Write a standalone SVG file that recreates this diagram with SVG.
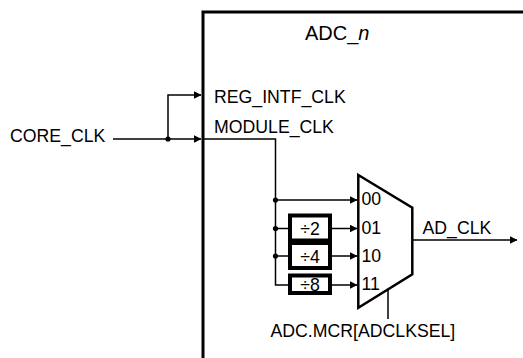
<svg xmlns="http://www.w3.org/2000/svg" width="523" height="358" viewBox="0 0 523 358">
<style>
text{font-family:"Liberation Sans",Arial,sans-serif;font-size:17.7px;fill:#000}
.w{fill:none;stroke:#000;stroke-width:1.5}
.dot{fill:#000}
.box{fill:#fff;stroke:#000;stroke-width:4}
.mux{fill:#fff;stroke:#000;stroke-width:2.5;stroke-linejoin:miter}
</style>
<defs>
<marker id="ah" markerWidth="8" markerHeight="8" refX="7.5" refY="4" orient="auto" markerUnits="userSpaceOnUse">
<path d="M0,0 L8,4 L0,8 Z" fill="#000"/>
</marker>
</defs>
<rect width="523" height="358" fill="#fff"/>
<g id="adc_block">
<path d="M203 362 V12 H530" fill="none" stroke="#000" stroke-width="3"/>
<text x="305" y="40" style="font-size:20px">ADC_<tspan font-style="italic">n</tspan></text>
</g>
<g id="labels">
<text x="10" y="142">CORE_CLK</text>
<text x="214" y="103">REG_INTF_CLK</text>
<text x="214" y="133">MODULE_CLK</text>
</g>
<g id="connectors">
<path class="w" d="M113 139 H201" marker-end="url(#ah)"/>
<path class="w" d="M168 139 V95 H201" marker-end="url(#ah)"/>
<path class="w" d="M203 139 H275.5 V285 H288"/>
<path class="w" d="M275.5 200 H357" marker-end="url(#ah)"/>
<path class="w" d="M275.5 228.5 H288"/>
<path class="w" d="M275.5 256 H288"/>
<path class="w" d="M332 228.5 H357" marker-end="url(#ah)"/>
<path class="w" d="M332 256 H357" marker-end="url(#ah)"/>
<path class="w" d="M332 285 H357" marker-end="url(#ah)"/>
<path class="w" d="M412 240 H517" marker-end="url(#ah)"/>
<path class="w" d="M388 290 V319"/>
<circle class="dot" cx="168" cy="139" r="2.6"/>
<circle class="dot" cx="275.5" cy="200" r="2.6"/>
<circle class="dot" cx="275.5" cy="228.5" r="2.6"/>
<circle class="dot" cx="275.5" cy="256" r="2.6"/>
</g>
<g id="div2">
<rect class="box" x="290" y="215.5" width="40" height="25"/>
<text x="310" y="235" text-anchor="middle">÷2</text>
</g>
<g id="div4">
<rect class="box" x="290" y="243" width="40" height="25"/>
<text x="310" y="262.5" text-anchor="middle">÷4</text>
</g>
<g id="div8">
<rect class="box" x="290" y="275.5" width="40" height="17.5"/>
<text x="310" y="291" text-anchor="middle">÷8</text>
</g>
<g id="mux">
<path class="mux" d="M358.3 175 L412.3 207.7 L412.3 274.3 L358.3 307.7 Z"/>
<text x="361.5" y="205">00</text>
<text x="361.5" y="233.5">01</text>
<text x="361.5" y="262">10</text>
<text x="361.5" y="290">11</text>
</g>
<g id="out_labels">
<text x="422.5" y="233.5">AD_CLK</text>
<text x="270.5" y="336.5">ADC.MCR[ADCLKSEL]</text>
</g>
</svg>
